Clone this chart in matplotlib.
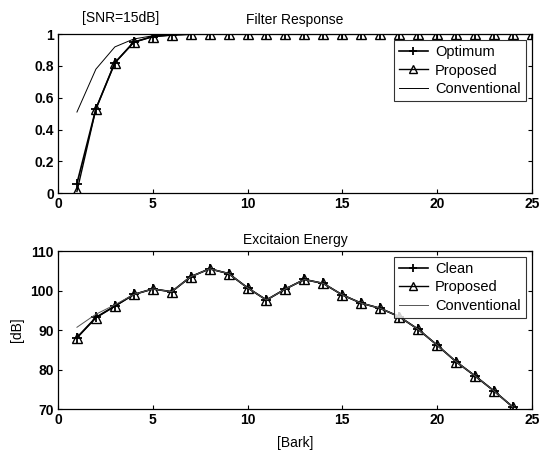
import matplotlib
matplotlib.use("Agg")
import matplotlib.pyplot as plt
import numpy as np

plt.rcParams['font.family'] = ['Liberation Sans', 'DejaVu Sans']

bark = list(range(1, 26))
optimum = [0.06, 0.53, 0.82, 0.95, 0.985, 0.995] + [1.0] * 19
proposed = [0.01, 0.53, 0.82, 0.95, 0.985, 0.995] + [1.0] * 19
conventional = [0.51, 0.78, 0.92, 0.97, 0.99, 1.0] + [1.0] * 19

bark2 = list(range(1, 25))
clean = [88.1, 93.2, 96.1, 99.0, 100.4, 99.7, 103.5, 105.5, 104.3, 100.7, 97.6,
         100.4, 102.8, 101.8, 98.9, 96.8, 95.5, 93.4, 90.2, 86.2, 82.0, 78.4, 74.6, 70.5]
proposed2 = [88.0, 93.1, 96.0, 99.0, 100.4, 99.7, 103.5, 105.5, 104.3, 100.7, 97.6,
             100.4, 102.8, 101.8, 98.9, 96.8, 95.5, 93.4, 90.2, 86.2, 82.0, 78.4, 74.6, 70.5]
conventional2 = [90.7, 94.0, 96.4, 99.0, 100.4, 99.7, 103.5, 105.5, 104.3, 100.7, 97.6,
                 100.4, 102.8, 101.8, 98.9, 96.8, 95.5, 93.4, 90.2, 86.2, 82.0, 78.4, 74.6, 70.5]

fig = plt.figure(figsize=(5.39, 4.5), dpi=100)
ax1 = fig.add_axes([0.1076, 0.571, 0.879, 0.353])
ax2 = fig.add_axes([0.1076, 0.0911, 0.879, 0.351])

def style(ax):
    ax.tick_params(direction='in', top=True, right=True, length=3, width=0.8,
                   labelsize=10, pad=3)
    for lab in ax.get_xticklabels() + ax.get_yticklabels():
        lab.set_fontweight('bold')
    for s in ax.spines.values():
        s.set_linewidth(0.9)

leg_kw = dict(loc='upper right', fontsize=10.5, frameon=True, fancybox=False,
              edgecolor='black', borderaxespad=0.4, handlelength=2.0,
              handletextpad=0.5, labelspacing=0.3, borderpad=0.35,
              markerscale=0.8)

ax1.plot(bark, optimum, color='black', lw=1.2, marker='+', ms=7, mew=1.3, label='Optimum')
ax1.plot(bark, proposed, color='black', lw=1.0, marker='^', ms=7.5, mfc='none', mew=1.0, label='Proposed')
ax1.plot(bark, conventional, color='black', lw=0.7, label='Conventional')
ax1.set_xlim(0, 25)
ax1.set_ylim(0, 1)
ax1.set_xticks([0, 5, 10, 15, 20, 25])
ax1.set_yticks([0, 0.2, 0.4, 0.6, 0.8, 1])
ax1.set_yticklabels(['0', '0.2', '0.4', '0.6', '0.8', '1'])
ax1.set_title('Filter Response', fontsize=10, pad=7)
ax1.text(3.3, 1.055, '[SNR=15dB]', fontsize=10, ha='center', va='bottom',
         transform=ax1.get_xaxis_transform())
leg1 = ax1.legend(**leg_kw)
leg1.get_frame().set_linewidth(0.8)
style(ax1)

ax2.plot(bark2, clean, color='black', lw=1.2, marker='+', ms=7, mew=1.3, label='Clean')
ax2.plot(bark2, proposed2, color='black', lw=1.0, marker='^', ms=7.5, mfc='none', mew=1.0, label='Proposed')
ax2.plot(bark2, conventional2, color='#555555', lw=0.7, label='Conventional')
ax2.set_xlim(0, 25)
ax2.set_ylim(70, 110)
ax2.set_xticks([0, 5, 10, 15, 20, 25])
ax2.set_yticks([70, 80, 90, 100, 110])
ax2.set_title('Excitaion Energy', fontsize=10, pad=5)
ax2.set_xlabel('[Bark]', fontsize=10, labelpad=6)
ax2.set_ylabel('[dB]', fontsize=10, labelpad=5)
leg2 = ax2.legend(**leg_kw)
leg2.get_frame().set_linewidth(0.8)
style(ax2)

fig.savefig('out.png', dpi=100)
